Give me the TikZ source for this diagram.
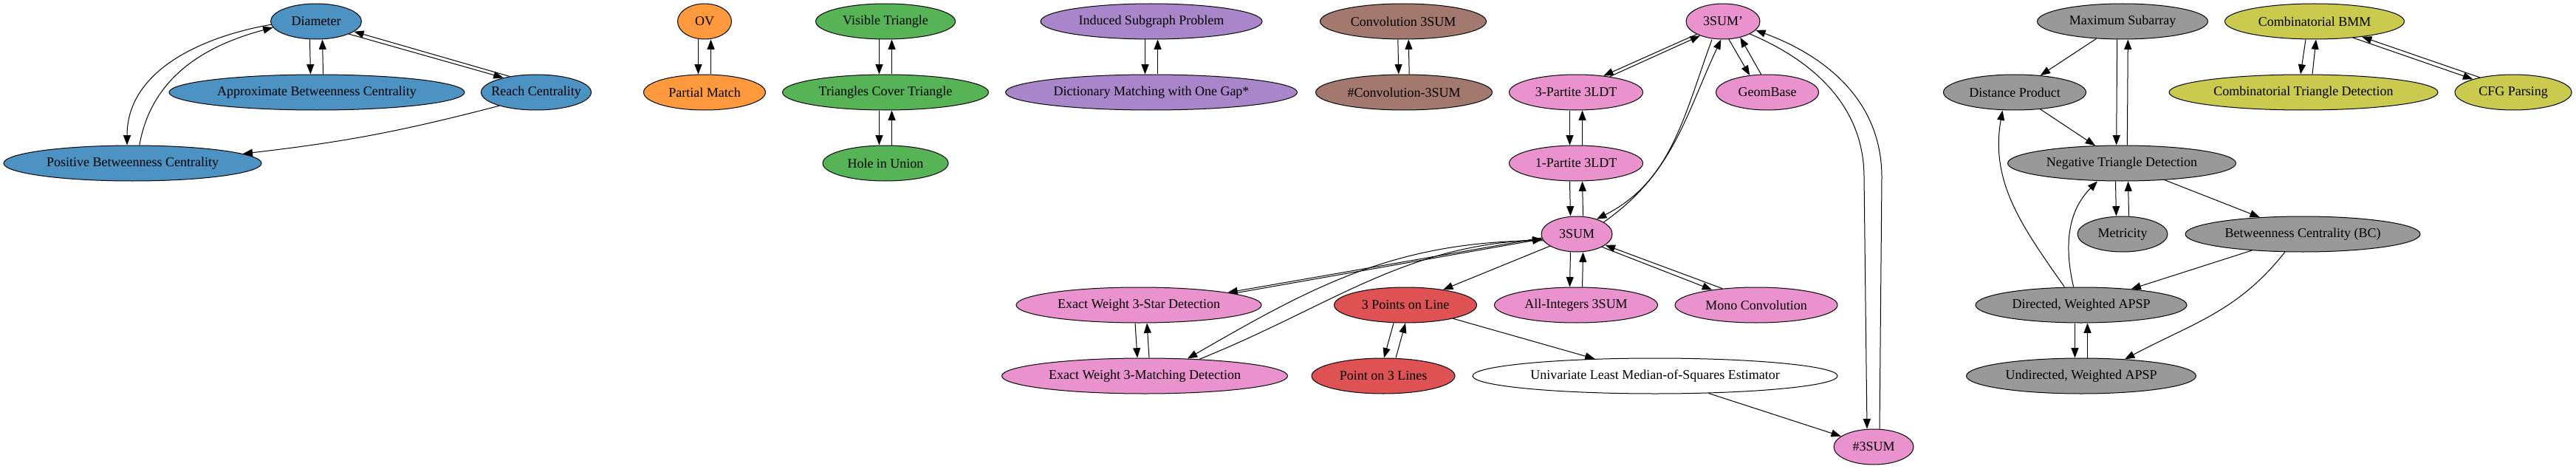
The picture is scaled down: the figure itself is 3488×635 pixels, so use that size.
\documentclass[tikz,border=0pt]{standalone}
\usepackage{fontspec}
\setmainfont{Liberation Serif}
\usetikzlibrary{shapes.geometric,arrows.meta}
\definecolor{cblue}{HTML}{4C92C3}
\definecolor{corange}{HTML}{FF993E}
\definecolor{cgreen}{HTML}{56B356}
\definecolor{cpurple}{HTML}{A986CA}
\definecolor{cbrown}{HTML}{A3786F}
\definecolor{cpink}{HTML}{E992CE}
\definecolor{cred}{HTML}{DE5253}
\definecolor{cgray}{HTML}{999999}
\definecolor{colive}{HTML}{C9CA4E}
\newcommand{\lbl}[1]{\makebox[0pt][c]{#1}}
\begin{document}
\begin{tikzpicture}[x=0.75pt,y=-0.75pt,
  gv/.style={ellipse,draw=black,line width=0.75pt,inner sep=0pt,minimum height=36pt,font=\fontsize{13.5pt}{16pt}\selectfont},
  e/.style={line width=0.75pt,-{Triangle[length=10pt,width=7.5pt]}}]
\useasboundingbox (0,0) rectangle (3488,635);
% blue
\node[gv,fill=cblue,minimum width=92.25pt] (diam) at (428,29) {\lbl{Diameter}};
\node[gv,fill=cblue,minimum width=300pt] (approx) at (429,125) {\lbl{Approximate Betweenness Centrality}};
\node[gv,fill=cblue,minimum width=111.75pt] (reach) at (726,125) {\lbl{Reach Centrality}};
\node[gv,fill=cblue,minimum width=261.75pt] (pbc) at (179.5,221) {\lbl{Positive Betweenness Centrality}};
% orange
\node[gv,fill=corange,minimum width=54.75pt] (ov) at (954,29) {\lbl{OV}};
\node[gv,fill=corange,minimum width=123.75pt] (pm) at (954,125) {\lbl{Partial Match}};
% green
\node[gv,fill=cgreen,minimum width=141.75pt] (vt) at (1199,29) {\lbl{Visible Triangle}};
\node[gv,fill=cgreen,minimum width=209.25pt] (tct) at (1199,125) {\lbl{Triangles Cover Triangle}};
\node[gv,fill=cgreen,minimum width=127.5pt] (hiu) at (1199,221) {\lbl{Hole in Union}};
% purple
\node[gv,fill=cpurple,minimum width=225pt] (isp) at (1559,29) {\lbl{Induced Subgraph Problem}};
\node[gv,fill=cpurple,minimum width=296.25pt] (dm) at (1559,125) {\lbl{Dictionary Matching with One Gap*}};
% brown
\node[gv,fill=cbrown,minimum width=168.75pt] (conv) at (1900,29) {\lbl{Convolution 3SUM}};
\node[gv,fill=cbrown,minimum width=179.25pt] (hconv) at (1901,125) {\lbl{\#Convolution-3SUM}};
% pink
\node[gv,fill=cpink,minimum width=75pt] (sp) at (2333,29) {\lbl{3SUM'}};
\node[gv,fill=cpink,minimum width=135.75pt] (tp) at (2134,125) {\lbl{3-Partite 3LDT}};
\node[gv,fill=cpink,minimum width=104.25pt] (gb) at (2393,125) {\lbl{GeomBase}};
\node[gv,fill=cpink,minimum width=135.75pt] (op) at (2134,221) {\lbl{1-Partite 3LDT}};
\node[gv,fill=cpink,minimum width=72pt] (ts) at (2135,317) {\lbl{3SUM}};
\node[gv,fill=cpink,minimum width=249pt] (star) at (1542,413) {\lbl{Exact Weight 3-Star Detection}};
\node[gv,fill=cpink,minimum width=290.25pt] (match) at (1550,509) {\lbl{Exact Weight 3-Matching Detection}};
\node[gv,fill=cred,minimum width=144.75pt] (tpl) at (1903,413) {\lbl{3 Points on Line}};
\node[gv,fill=cred,minimum width=145.5pt] (pol) at (1873,509) {\lbl{Point on 3 Lines}};
\node[gv,fill=cpink,minimum width=165.75pt] (ai) at (2134,413) {\lbl{All-Integers 3SUM}};
\node[gv,fill=cpink,minimum width=165pt] (mc) at (2378,413) {\lbl{Mono Convolution}};
\node[gv,fill=white,minimum width=370.5pt] (ulms) at (2241,509) {\lbl{Univariate Least Median-of-Squares Estimator}};
\node[gv,fill=cpink,minimum width=81pt] (hs) at (2537,605) {\lbl{\#3SUM}};
% gray
\node[gv,fill=cgray,minimum width=173.25pt] (ms) at (2874,29) {\lbl{Maximum Subarray}};
\node[gv,fill=cgray,minimum width=144.75pt] (dp) at (2728,125) {\lbl{Distance Product}};
\node[gv,fill=cgray,minimum width=231.75pt] (ntd) at (2873,221) {\lbl{Negative Triangle Detection}};
\node[gv,fill=cgray,minimum width=91.5pt] (met) at (2874,317) {\lbl{Metricity}};
\node[gv,fill=cgray,minimum width=238.5pt] (bc) at (3118,317) {\lbl{Betweenness Centrality (BC)}};
\node[gv,fill=cgray,minimum width=214.5pt] (da) at (2818,413) {\lbl{Directed, Weighted APSP}};
\node[gv,fill=cgray,minimum width=233.25pt] (ua) at (2818,509) {\lbl{Undirected, Weighted APSP}};
% olive
\node[gv,fill=colive,minimum width=182.25pt] (bmm) at (3134,29) {\lbl{Combinatorial BMM}};
\node[gv,fill=colive,minimum width=273pt] (ctd) at (3119,125) {\lbl{Combinatorial Triangle Detection}};
\node[gv,fill=colive,minimum width=118.5pt] (cfg) at (3403,125) {\lbl{CFG Parsing}};

% ---- edges: blue
\draw[e] ([xshift=-6.4pt]diam.south) -- ([xshift=-6.4pt]approx.north);
\draw[e] ([xshift=6.4pt]approx.north) -- ([xshift=6.4pt]diam.south);
\draw[e] (diam.339) -- (reach.156);
\draw[e] (reach.149) -- (diam.345);
\draw[e] (diam.184) to[out=190,in=90] ([xshift=-5.6pt]pbc.north);
\draw[e] ([xshift=7pt]pbc.north) to[out=80,in=195] (diam.188);
\draw[e] (reach.200) to[bend left=4] (pbc);
% orange, green, purple, brown
\draw[e] ([xshift=-6.4pt]ov.south) -- ([xshift=-6.4pt]pm.north);
\draw[e] ([xshift=6.4pt]pm.north) -- ([xshift=6.4pt]ov.south);
\draw[e] ([xshift=-6.4pt]vt.south) -- ([xshift=-6.4pt]tct.north);
\draw[e] ([xshift=6.4pt]tct.north) -- ([xshift=6.4pt]vt.south);
\draw[e] ([xshift=-6.4pt]tct.south) -- ([xshift=-6.4pt]hiu.north);
\draw[e] ([xshift=6.4pt]hiu.north) -- ([xshift=6.4pt]tct.south);
\draw[e] ([xshift=-6.4pt]isp.south) -- ([xshift=-6.4pt]dm.north);
\draw[e] ([xshift=6.4pt]dm.north) -- ([xshift=6.4pt]isp.south);
\draw[e] ([xshift=-5.4pt]conv.south) -- ([xshift=-5.4pt]hconv.north);
\draw[e] ([xshift=5.4pt]hconv.north) -- ([xshift=5.4pt]conv.south);
% pink
\draw[e] (sp.206) -- (tp.31);
\draw[e] (tp.25) -- (sp.212);
\draw[e] (sp.288) -- (gb.136);
\draw[e] (gb.109) -- (sp.317);
\draw[e] ([xshift=-11.25pt]sp.south) to[out=250,in=27] (ts.37);
\draw[e] (ts.24) to[out=35,in=245] ([xshift=-2pt]sp.south);
\coordinate (k1) at (2524,240);
\coordinate (k2) at (2548,240);
\draw[e] (sp.335) .. controls (2450,80) and (2524,140) .. (k1) -- ([xshift=-6.75pt]hs.north);
\draw[e] ([xshift=6pt]hs.north) -- (k2) .. controls (2548,135) and (2470,75) .. (sp.345);
\draw[e] ([xshift=-6.4pt]tp.south) -- ([xshift=-6.4pt]op.north);
\draw[e] ([xshift=6.4pt]op.north) -- ([xshift=6.4pt]tp.south);
\draw[e] ([xshift=-6.4pt]op.south) -- ([xshift=-6.4pt]ts.north);
\draw[e] ([xshift=6.4pt]ts.north) -- ([xshift=6.4pt]op.south);
\draw[e] ([xshift=-6.4pt]ts.south) -- ([xshift=-6.4pt]ai.north);
\draw[e] ([xshift=6.4pt]ai.north) -- ([xshift=6.4pt]ts.south);
\draw[e] (ts.333) -- (mc.161);
\draw[e] (mc.154) -- (ts.339);
\draw[e] (ts.204) -- (tpl);
\draw[e] (ts.186) -- (star.8.4);
\draw[e] (star.7.3) -- (ts.188);
\draw[e] (ts.191) to[out=180,in=30] (match.22.3);
\draw[e] (match.17.2) to[out=22,in=183] (ts.189);
\draw[e] ([xshift=-3.75pt]star.south) -- ([xshift=-7.5pt]match.north);
\draw[e] ([xshift=4.5pt]match.north) -- ([xshift=8.25pt]star.south);
\draw[e] ([xshift=-12pt]tpl.south) -- ([xshift=0.75pt]pol.north);
\draw[e] ([xshift=12.75pt]pol.north) -- (tpl.south);
\draw[e] (tpl) -- (ulms);
\draw[e] (ulms) -- (hs);
% gray
\draw[e] (ms) -- (dp);
\draw[e] ([xshift=-5.5pt]ms.south) -- ([xshift=-5.5pt]ntd.north);
\draw[e] ([xshift=5.5pt]ntd.north) -- ([xshift=5.5pt]ms.south);
\draw[e] (dp) -- (ntd);
\draw[e] ([xshift=-6.4pt]ntd.south) -- ([xshift=-6.4pt]met.north);
\draw[e] ([xshift=6.4pt]met.north) -- ([xshift=6.4pt]ntd.south);
\draw[e] (ntd) -- (bc);
\draw[e] (bc) -- (da);
\draw[e] (bc.225) to[out=232,in=28] (ua.21.7);
\draw[e] ([xshift=-17pt]da.north) to[out=125,in=-100] ([xshift=-12.4pt]dp.south);
\draw[e] ([xshift=-7.8pt]da.north) to[out=103,in=225] ([xshift=-24.75pt]ntd.south);
\draw[e] ([xshift=-6.4pt]da.south) -- ([xshift=-6.4pt]ua.north);
\draw[e] ([xshift=6.4pt]ua.north) -- ([xshift=6.4pt]da.south);
% olive
\draw[e] ([xshift=-9pt]bmm.south) -- ([xshift=-3pt]ctd.north);
\draw[e] ([xshift=9pt]ctd.north) -- ([xshift=1.5pt]bmm.south);
\draw[e] (bmm.337) -- (cfg.162);
\draw[e] (cfg.156) -- (bmm.342.5);
\end{tikzpicture}
\end{document}
